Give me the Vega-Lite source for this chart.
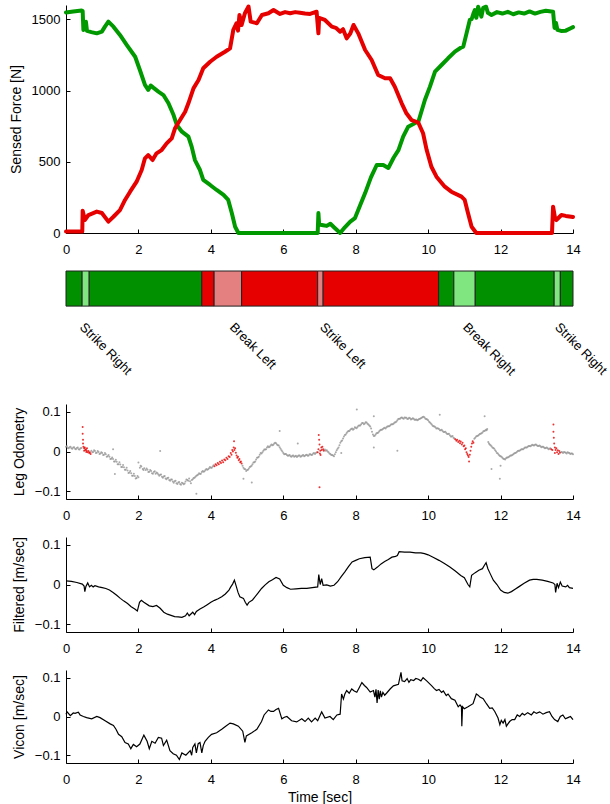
{
  "$schema": "https://vega.github.io/schema/vega-lite/v6.json",
  "padding": {"left": 9, "top": 4, "right": 2, "bottom": 2},
  "spacing": 14,
  "resolve": {"scale": {"x": "independent", "y": "independent", "color": "independent"}},
  "config": {
    "view": {"stroke": null},
    "font": "Liberation Sans",
    "text": {"font": "Liberation Sans"},
    "axis": {"labelFont": "Liberation Sans", "titleFont": "Liberation Sans", "labelFontSize": 13, "titleFontSize": 14, "titleFontWeight": "normal", "labelColor": "#000", "titleColor": "#000", "domainColor": "#000", "tickColor": "#000", "grid": false, "tickSize": -4, "labelPadding": 10, "titlePadding": 8, "domainWidth": 1, "tickWidth": 1, "labelFlush": false},
    "axisX": {"labelPadding": 14}
  },
  "datasets": {
    "force": [
      {"t":0,"f":1548,"leg":"Left"},{"t":0.2,"f":1555,"leg":"Left"},{"t":0.43,"f":1562,"leg":"Left"},{"t":0.46,"f":1558,"leg":"Left"},{"t":0.48,"f":1425,"leg":"Left"},{"t":0.52,"f":1440,"leg":"Left"},{"t":0.55,"f":1483,"leg":"Left"},{"t":0.58,"f":1418,"leg":"Left"},{"t":0.7,"f":1410,"leg":"Left"},{"t":0.85,"f":1401,"leg":"Left"},{"t":0.99,"f":1413,"leg":"Left"},{"t":1.08,"f":1450,"leg":"Left"},{"t":1.17,"f":1483,"leg":"Left"},{"t":1.31,"f":1448,"leg":"Left"},{"t":1.49,"f":1390,"leg":"Left"},{"t":1.68,"f":1319,"leg":"Left"},{"t":1.91,"f":1237,"leg":"Left"},{"t":2.04,"f":1144,"leg":"Left"},{"t":2.18,"f":1039,"leg":"Left"},{"t":2.27,"f":1004,"leg":"Left"},{"t":2.34,"f":1035,"leg":"Left"},{"t":2.41,"f":1020,"leg":"Left"},{"t":2.55,"f":992,"leg":"Left"},{"t":2.69,"f":968,"leg":"Left"},{"t":2.83,"f":910,"leg":"Left"},{"t":2.97,"f":828,"leg":"Left"},{"t":3.06,"f":758,"leg":"Left"},{"t":3.2,"f":711,"leg":"Left"},{"t":3.38,"f":676,"leg":"Left"},{"t":3.47,"f":606,"leg":"Left"},{"t":3.56,"f":512,"leg":"Left"},{"t":3.7,"f":442,"leg":"Left"},{"t":3.79,"f":372,"leg":"Left"},{"t":3.98,"f":337,"leg":"Left"},{"t":4.16,"f":302,"leg":"Left"},{"t":4.35,"f":267,"leg":"Left"},{"t":4.48,"f":232,"leg":"Left"},{"t":4.58,"f":138,"leg":"Left"},{"t":4.67,"f":44,"leg":"Left"},{"t":4.76,"f":0,"leg":"Left"},{"t":6.95,"f":0,"leg":"Left"},{"t":6.97,"f":140,"leg":"Left"},{"t":6.99,"f":60,"leg":"Left"},{"t":7.1,"f":55,"leg":"Left"},{"t":7.2,"f":50,"leg":"Left"},{"t":7.3,"f":65,"leg":"Left"},{"t":7.4,"f":40,"leg":"Left"},{"t":7.57,"f":0,"leg":"Left"},{"t":7.7,"f":40,"leg":"Left"},{"t":7.85,"f":80,"leg":"Left"},{"t":7.98,"f":105,"leg":"Left"},{"t":8.1,"f":180,"leg":"Left"},{"t":8.26,"f":280,"leg":"Left"},{"t":8.42,"f":390,"leg":"Left"},{"t":8.58,"f":477,"leg":"Left"},{"t":8.76,"f":477,"leg":"Left"},{"t":8.9,"f":456,"leg":"Left"},{"t":9.05,"f":530,"leg":"Left"},{"t":9.18,"f":582,"leg":"Left"},{"t":9.31,"f":676,"leg":"Left"},{"t":9.45,"f":746,"leg":"Left"},{"t":9.63,"f":770,"leg":"Left"},{"t":9.73,"f":781,"leg":"Left"},{"t":9.91,"f":933,"leg":"Left"},{"t":10.05,"f":1027,"leg":"Left"},{"t":10.19,"f":1132,"leg":"Left"},{"t":10.37,"f":1179,"leg":"Left"},{"t":10.55,"f":1226,"leg":"Left"},{"t":10.74,"f":1273,"leg":"Left"},{"t":10.9,"f":1300,"leg":"Left"},{"t":10.97,"f":1308,"leg":"Left"},{"t":11.06,"f":1401,"leg":"Left"},{"t":11.15,"f":1495,"leg":"Left"},{"t":11.2,"f":1500,"leg":"Left"},{"t":11.25,"f":1540,"leg":"Left"},{"t":11.29,"f":1565,"leg":"Left"},{"t":11.33,"f":1510,"leg":"Left"},{"t":11.38,"f":1588,"leg":"Left"},{"t":11.47,"f":1518,"leg":"Left"},{"t":11.52,"f":1580,"leg":"Left"},{"t":11.6,"f":1588,"leg":"Left"},{"t":11.65,"f":1545,"leg":"Left"},{"t":11.75,"f":1530,"leg":"Left"},{"t":11.9,"f":1550,"leg":"Left"},{"t":12.05,"f":1540,"leg":"Left"},{"t":12.2,"f":1552,"leg":"Left"},{"t":12.35,"f":1535,"leg":"Left"},{"t":12.5,"f":1548,"leg":"Left"},{"t":12.65,"f":1540,"leg":"Left"},{"t":12.8,"f":1555,"leg":"Left"},{"t":12.95,"f":1540,"leg":"Left"},{"t":13.1,"f":1552,"leg":"Left"},{"t":13.25,"f":1560,"leg":"Left"},{"t":13.45,"f":1553,"leg":"Left"},{"t":13.49,"f":1439,"leg":"Left"},{"t":13.53,"f":1475,"leg":"Left"},{"t":13.57,"f":1425,"leg":"Left"},{"t":13.67,"f":1418,"leg":"Left"},{"t":13.8,"f":1420,"leg":"Left"},{"t":13.95,"f":1439,"leg":"Left"},{"t":14,"f":1445,"leg":"Left"},
      {"t":0,"f":10,"leg":"Right"},{"t":0.45,"f":10,"leg":"Right"},{"t":0.46,"f":157,"leg":"Right"},{"t":0.52,"f":91,"leg":"Right"},{"t":0.62,"f":126,"leg":"Right"},{"t":0.85,"f":150,"leg":"Right"},{"t":0.99,"f":140,"leg":"Right"},{"t":1.17,"f":80,"leg":"Right"},{"t":1.31,"f":114,"leg":"Right"},{"t":1.49,"f":161,"leg":"Right"},{"t":1.63,"f":232,"leg":"Right"},{"t":1.77,"f":290,"leg":"Right"},{"t":1.95,"f":360,"leg":"Right"},{"t":2.09,"f":442,"leg":"Right"},{"t":2.18,"f":524,"leg":"Right"},{"t":2.27,"f":547,"leg":"Right"},{"t":2.39,"f":512,"leg":"Right"},{"t":2.5,"f":559,"leg":"Right"},{"t":2.64,"f":582,"leg":"Right"},{"t":2.78,"f":629,"leg":"Right"},{"t":2.92,"f":664,"leg":"Right"},{"t":3.01,"f":735,"leg":"Right"},{"t":3.15,"f":793,"leg":"Right"},{"t":3.29,"f":851,"leg":"Right"},{"t":3.38,"f":910,"leg":"Right"},{"t":3.52,"f":1015,"leg":"Right"},{"t":3.66,"f":1074,"leg":"Right"},{"t":3.79,"f":1156,"leg":"Right"},{"t":3.98,"f":1202,"leg":"Right"},{"t":4.16,"f":1237,"leg":"Right"},{"t":4.39,"f":1272,"leg":"Right"},{"t":4.53,"f":1296,"leg":"Right"},{"t":4.62,"f":1425,"leg":"Right"},{"t":4.71,"f":1472,"leg":"Right"},{"t":4.75,"f":1420,"leg":"Right"},{"t":4.79,"f":1530,"leg":"Right"},{"t":4.85,"f":1460,"leg":"Right"},{"t":4.94,"f":1542,"leg":"Right"},{"t":5.04,"f":1589,"leg":"Right"},{"t":5.1,"f":1483,"leg":"Right"},{"t":5.27,"f":1472,"leg":"Right"},{"t":5.41,"f":1530,"leg":"Right"},{"t":5.59,"f":1542,"leg":"Right"},{"t":5.73,"f":1565,"leg":"Right"},{"t":5.91,"f":1537,"leg":"Right"},{"t":6.05,"f":1550,"leg":"Right"},{"t":6.19,"f":1542,"leg":"Right"},{"t":6.33,"f":1550,"leg":"Right"},{"t":6.46,"f":1546,"leg":"Right"},{"t":6.6,"f":1540,"leg":"Right"},{"t":6.74,"f":1537,"leg":"Right"},{"t":6.92,"f":1553,"leg":"Right"},{"t":6.97,"f":1401,"leg":"Right"},{"t":6.99,"f":1509,"leg":"Right"},{"t":7.15,"f":1495,"leg":"Right"},{"t":7.34,"f":1448,"leg":"Right"},{"t":7.45,"f":1440,"leg":"Right"},{"t":7.57,"f":1413,"leg":"Right"},{"t":7.65,"f":1430,"leg":"Right"},{"t":7.75,"f":1366,"leg":"Right"},{"t":7.85,"f":1400,"leg":"Right"},{"t":7.94,"f":1460,"leg":"Right"},{"t":8.07,"f":1401,"leg":"Right"},{"t":8.26,"f":1284,"leg":"Right"},{"t":8.44,"f":1214,"leg":"Right"},{"t":8.62,"f":1109,"leg":"Right"},{"t":8.81,"f":1086,"leg":"Right"},{"t":8.95,"f":1086,"leg":"Right"},{"t":9.08,"f":1027,"leg":"Right"},{"t":9.27,"f":910,"leg":"Right"},{"t":9.4,"f":840,"leg":"Right"},{"t":9.54,"f":793,"leg":"Right"},{"t":9.73,"f":774,"leg":"Right"},{"t":9.86,"f":700,"leg":"Right"},{"t":9.96,"f":582,"leg":"Right"},{"t":10.09,"f":465,"leg":"Right"},{"t":10.23,"f":395,"leg":"Right"},{"t":10.46,"f":325,"leg":"Right"},{"t":10.64,"f":290,"leg":"Right"},{"t":10.92,"f":255,"leg":"Right"},{"t":11.01,"f":232,"leg":"Right"},{"t":11.1,"f":140,"leg":"Right"},{"t":11.2,"f":44,"leg":"Right"},{"t":11.33,"f":0,"leg":"Right"},{"t":13.42,"f":0,"leg":"Right"},{"t":13.45,"f":185,"leg":"Right"},{"t":13.5,"f":110,"leg":"Right"},{"t":13.54,"f":91,"leg":"Right"},{"t":13.68,"f":126,"leg":"Right"},{"t":13.8,"f":120,"leg":"Right"},{"t":13.95,"f":114,"leg":"Right"},{"t":14,"f":112,"leg":"Right"}
    ],
    "phases": [
      {"start":0,"end":0.445,"phase":"Left support"},
      {"start":0.445,"end":0.64,"phase":"Left event"},
      {"start":0.64,"end":3.75,"phase":"Left support"},
      {"start":3.75,"end":4.09,"phase":"Right support"},
      {"start":4.09,"end":4.85,"phase":"Right event"},
      {"start":4.85,"end":6.95,"phase":"Right support"},
      {"start":6.95,"end":7.1,"phase":"Right event"},
      {"start":7.1,"end":10.29,"phase":"Right support"},
      {"start":10.29,"end":10.71,"phase":"Left support"},
      {"start":10.71,"end":11.3,"phase":"Left event"},
      {"start":11.3,"end":13.48,"phase":"Left support"},
      {"start":13.48,"end":13.65,"phase":"Left event"},
      {"start":13.65,"end":14,"phase":"Left support"}
    ],
    "events": [
      {"t":0.44,"event":"Strike Right"},
      {"t":4.58,"event":"Break Left"},
      {"t":7.07,"event":"Strike Left"},
      {"t":11.02,"event":"Break Right"},
      {"t":13.56,"event":"Strike Right"}
    ],
    "odo": [
      {"t":0,"v":0.012,"k":"n"},{"t":0.05,"v":0.009,"k":"n"},{"t":0.1,"v":0.011,"k":"n"},{"t":0.15,"v":0.008,"k":"n"},{"t":0.2,"v":0.01,"k":"n"},{"t":0.25,"v":0.007,"k":"n"},{"t":0.3,"v":0.009,"k":"n"},{"t":0.35,"v":0.006,"k":"n"},{"t":0.4,"v":0.008,"k":"n"},{"t":0.7,"v":0.002,"k":"n"},{"t":0.75,"v":-0.001,"k":"n"},{"t":0.8,"v":0.001,"k":"n"},{"t":0.85,"v":-0.003,"k":"n"},{"t":0.9,"v":-0.001,"k":"n"},{"t":0.95,"v":-0.005,"k":"n"},{"t":1,"v":-0.004,"k":"n"},{"t":1.05,"v":-0.008,"k":"n"},{"t":1.1,"v":-0.007,"k":"n"},{"t":1.15,"v":-0.012,"k":"n"},{"t":1.2,"v":-0.013,"k":"n"},{"t":1.25,"v":-0.018,"k":"n"},{"t":1.3,"v":-0.019,"k":"n"},{"t":1.35,"v":-0.025,"k":"n"},{"t":1.4,"v":-0.026,"k":"n"},{"t":1.45,"v":-0.032,"k":"n"},{"t":1.5,"v":-0.033,"k":"n"},{"t":1.55,"v":-0.039,"k":"n"},{"t":1.6,"v":-0.04,"k":"n"},{"t":1.65,"v":-0.046,"k":"n"},{"t":1.7,"v":-0.048,"k":"n"},{"t":1.75,"v":-0.053,"k":"n"},{"t":1.8,"v":-0.055,"k":"n"},{"t":1.85,"v":-0.061,"k":"n"},{"t":1.9,"v":-0.062,"k":"n"},{"t":1.95,"v":-0.067,"k":"n"},{"t":2,"v":-0.065,"k":"n"},{"t":2.04,"v":-0.041,"k":"n"},{"t":2.08,"v":-0.038,"k":"n"},{"t":2.12,"v":-0.044,"k":"n"},{"t":2.16,"v":-0.042,"k":"n"},{"t":2.2,"v":-0.047,"k":"n"},{"t":2.25,"v":-0.046,"k":"n"},{"t":2.3,"v":-0.051,"k":"n"},{"t":2.35,"v":-0.049,"k":"n"},{"t":2.4,"v":-0.056,"k":"n"},{"t":2.45,"v":-0.05,"k":"n"},{"t":2.5,"v":-0.053,"k":"n"},{"t":2.55,"v":-0.058,"k":"n"},{"t":2.6,"v":-0.059,"k":"n"},{"t":2.65,"v":-0.064,"k":"n"},{"t":2.7,"v":-0.063,"k":"n"},{"t":2.75,"v":-0.068,"k":"n"},{"t":2.8,"v":-0.067,"k":"n"},{"t":2.85,"v":-0.072,"k":"n"},{"t":2.9,"v":-0.071,"k":"n"},{"t":2.95,"v":-0.076,"k":"n"},{"t":3,"v":-0.075,"k":"n"},{"t":3.05,"v":-0.08,"k":"n"},{"t":3.1,"v":-0.078,"k":"n"},{"t":3.15,"v":-0.082,"k":"n"},{"t":3.2,"v":-0.079,"k":"n"},{"t":3.25,"v":-0.083,"k":"n"},{"t":3.3,"v":-0.076,"k":"n"},{"t":3.35,"v":-0.072,"k":"n"},{"t":3.4,"v":-0.068,"k":"n"},{"t":3.45,"v":-0.08,"k":"n"},{"t":3.5,"v":-0.07,"k":"n"},{"t":3.55,"v":-0.066,"k":"n"},{"t":3.6,"v":-0.061,"k":"n"},{"t":3.65,"v":-0.058,"k":"n"},{"t":3.7,"v":-0.057,"k":"n"},{"t":3.75,"v":-0.052,"k":"n"},{"t":3.8,"v":-0.051,"k":"n"},{"t":3.85,"v":-0.047,"k":"n"},{"t":3.9,"v":-0.046,"k":"n"},{"t":3.95,"v":-0.042,"k":"n"},{"t":4,"v":-0.041,"k":"n"},{"t":4.05,"v":-0.038,"k":"n"},{"t":4.9,"v":-0.041,"k":"n"},{"t":4.95,"v":-0.045,"k":"n"},{"t":5,"v":-0.047,"k":"n"},{"t":5.05,"v":-0.043,"k":"n"},{"t":5.1,"v":-0.038,"k":"n"},{"t":5.15,"v":-0.032,"k":"n"},{"t":5.2,"v":-0.027,"k":"n"},{"t":5.25,"v":-0.02,"k":"n"},{"t":5.3,"v":-0.015,"k":"n"},{"t":5.35,"v":-0.008,"k":"n"},{"t":5.4,"v":-0.005,"k":"n"},{"t":5.45,"v":0.002,"k":"n"},{"t":5.5,"v":0.005,"k":"n"},{"t":5.55,"v":0.01,"k":"n"},{"t":5.6,"v":0.011,"k":"n"},{"t":5.65,"v":0.015,"k":"n"},{"t":5.7,"v":0.016,"k":"n"},{"t":5.75,"v":0.02,"k":"n"},{"t":5.8,"v":0.021,"k":"n"},{"t":5.85,"v":0.016,"k":"n"},{"t":5.9,"v":0.011,"k":"n"},{"t":5.95,"v":0.003,"k":"n"},{"t":6,"v":-0.004,"k":"n"},{"t":6.05,"v":-0.006,"k":"n"},{"t":6.1,"v":-0.009,"k":"n"},{"t":6.15,"v":-0.01,"k":"n"},{"t":6.2,"v":-0.012,"k":"n"},{"t":6.25,"v":-0.011,"k":"n"},{"t":6.3,"v":-0.013,"k":"n"},{"t":6.35,"v":-0.011,"k":"n"},{"t":6.4,"v":-0.012,"k":"n"},{"t":6.45,"v":-0.01,"k":"n"},{"t":6.5,"v":-0.012,"k":"n"},{"t":6.55,"v":-0.009,"k":"n"},{"t":6.6,"v":-0.011,"k":"n"},{"t":6.65,"v":-0.008,"k":"n"},{"t":6.7,"v":-0.01,"k":"n"},{"t":6.75,"v":-0.007,"k":"n"},{"t":6.8,"v":-0.008,"k":"n"},{"t":6.85,"v":-0.004,"k":"n"},{"t":6.9,"v":-0.004,"k":"n"},{"t":7.15,"v":0.005,"k":"n"},{"t":7.2,"v":0.003,"k":"n"},{"t":7.25,"v":-0.002,"k":"n"},{"t":7.3,"v":-0.006,"k":"n"},{"t":7.35,"v":-0.009,"k":"n"},{"t":7.4,"v":-0.012,"k":"n"},{"t":7.45,"v":-0.002,"k":"n"},{"t":7.5,"v":0.007,"k":"n"},{"t":7.55,"v":0.016,"k":"n"},{"t":7.6,"v":0.026,"k":"n"},{"t":7.65,"v":0.033,"k":"n"},{"t":7.7,"v":0.042,"k":"n"},{"t":7.75,"v":0.047,"k":"n"},{"t":7.8,"v":0.052,"k":"n"},{"t":7.85,"v":0.055,"k":"n"},{"t":7.9,"v":0.058,"k":"n"},{"t":7.95,"v":0.057,"k":"n"},{"t":8,"v":0.06,"k":"n"},{"t":8.05,"v":0.062,"k":"n"},{"t":8.1,"v":0.066,"k":"n"},{"t":8.15,"v":0.069,"k":"n"},{"t":8.2,"v":0.072,"k":"n"},{"t":8.25,"v":0.071,"k":"n"},{"t":8.3,"v":0.073,"k":"n"},{"t":8.35,"v":0.068,"k":"n"},{"t":8.4,"v":0.063,"k":"n"},{"t":8.45,"v":0.05,"k":"n"},{"t":8.5,"v":0.039,"k":"n"},{"t":8.55,"v":0.043,"k":"n"},{"t":8.6,"v":0.047,"k":"n"},{"t":8.65,"v":0.051,"k":"n"},{"t":8.7,"v":0.055,"k":"n"},{"t":8.75,"v":0.057,"k":"n"},{"t":8.8,"v":0.06,"k":"n"},{"t":8.85,"v":0.061,"k":"n"},{"t":8.9,"v":0.064,"k":"n"},{"t":8.95,"v":0.066,"k":"n"},{"t":9,"v":0.069,"k":"n"},{"t":9.05,"v":0.071,"k":"n"},{"t":9.1,"v":0.074,"k":"n"},{"t":9.15,"v":0.079,"k":"n"},{"t":9.2,"v":0.083,"k":"n"},{"t":9.25,"v":0.085,"k":"n"},{"t":9.3,"v":0.084,"k":"n"},{"t":9.35,"v":0.086,"k":"n"},{"t":9.4,"v":0.085,"k":"n"},{"t":9.45,"v":0.083,"k":"n"},{"t":9.5,"v":0.084,"k":"n"},{"t":9.55,"v":0.082,"k":"n"},{"t":9.6,"v":0.083,"k":"n"},{"t":9.65,"v":0.08,"k":"n"},{"t":9.7,"v":0.079,"k":"n"},{"t":9.75,"v":0.082,"k":"n"},{"t":9.8,"v":0.084,"k":"n"},{"t":9.85,"v":0.087,"k":"n"},{"t":9.9,"v":0.086,"k":"n"},{"t":9.95,"v":0.082,"k":"n"},{"t":10,"v":0.079,"k":"n"},{"t":10.05,"v":0.073,"k":"n"},{"t":10.1,"v":0.068,"k":"n"},{"t":10.15,"v":0.064,"k":"n"},{"t":10.2,"v":0.061,"k":"n"},{"t":10.25,"v":0.059,"k":"n"},{"t":10.3,"v":0.057,"k":"n"},{"t":10.35,"v":0.054,"k":"n"},{"t":10.4,"v":0.052,"k":"n"},{"t":10.45,"v":0.049,"k":"n"},{"t":10.5,"v":0.047,"k":"n"},{"t":10.55,"v":0.044,"k":"n"},{"t":10.6,"v":0.041,"k":"n"},{"t":10.65,"v":0.038,"k":"n"},{"t":10.7,"v":0.035,"k":"n"},{"t":11.3,"v":0.035,"k":"n"},{"t":11.35,"v":0.039,"k":"n"},{"t":11.4,"v":0.042,"k":"n"},{"t":11.45,"v":0.045,"k":"n"},{"t":11.5,"v":0.048,"k":"n"},{"t":11.55,"v":0.052,"k":"n"},{"t":11.6,"v":0.055,"k":"n"},{"t":11.63,"v":0.057,"k":"n"},{"t":11.66,"v":0.024,"k":"n"},{"t":11.7,"v":0.018,"k":"n"},{"t":11.75,"v":0.013,"k":"n"},{"t":11.8,"v":0.009,"k":"n"},{"t":11.85,"v":0.003,"k":"n"},{"t":11.9,"v":-0.004,"k":"n"},{"t":11.95,"v":-0.008,"k":"n"},{"t":12,"v":-0.012,"k":"n"},{"t":12.05,"v":-0.016,"k":"n"},{"t":12.1,"v":-0.019,"k":"n"},{"t":12.15,"v":-0.017,"k":"n"},{"t":12.2,"v":-0.015,"k":"n"},{"t":12.25,"v":-0.012,"k":"n"},{"t":12.3,"v":-0.01,"k":"n"},{"t":12.35,"v":-0.007,"k":"n"},{"t":12.4,"v":-0.004,"k":"n"},{"t":12.45,"v":-0.001,"k":"n"},{"t":12.5,"v":0.002,"k":"n"},{"t":12.55,"v":0.004,"k":"n"},{"t":12.6,"v":0.006,"k":"n"},{"t":12.65,"v":0.008,"k":"n"},{"t":12.7,"v":0.01,"k":"n"},{"t":12.75,"v":0.012,"k":"n"},{"t":12.8,"v":0.014,"k":"n"},{"t":12.85,"v":0.015,"k":"n"},{"t":12.9,"v":0.016,"k":"n"},{"t":12.95,"v":0.017,"k":"n"},{"t":13,"v":0.016,"k":"n"},{"t":13.05,"v":0.014,"k":"n"},{"t":13.1,"v":0.013,"k":"n"},{"t":13.15,"v":0.012,"k":"n"},{"t":13.2,"v":0.01,"k":"n"},{"t":13.25,"v":0.009,"k":"n"},{"t":13.3,"v":0.008,"k":"n"},{"t":13.35,"v":0.007,"k":"n"},{"t":13.7,"v":-0.002,"k":"n"},{"t":13.75,"v":-0.001,"k":"n"},{"t":13.8,"v":-0.003,"k":"n"},{"t":13.85,"v":-0.002,"k":"n"},{"t":13.9,"v":-0.004,"k":"n"},{"t":13.95,"v":-0.005,"k":"n"},{"t":14,"v":-0.007,"k":"n"},
      {"t":0.025,"v":0.013,"k":"n"},{"t":0.075,"v":0.008,"k":"n"},{"t":0.125,"v":0.012,"k":"n"},{"t":0.175,"v":0.007,"k":"n"},{"t":0.225,"v":0.011,"k":"n"},{"t":0.275,"v":0.006,"k":"n"},{"t":0.325,"v":0.01,"k":"n"},{"t":0.375,"v":0.005,"k":"n"},{"t":0.425,"v":0.009,"k":"n"},{"t":0.725,"v":-0.002,"k":"n"},{"t":0.775,"v":0.003,"k":"n"},{"t":0.825,"v":-0.004,"k":"n"},{"t":0.875,"v":0.001,"k":"n"},{"t":0.925,"v":-0.006,"k":"n"},{"t":0.975,"v":-0.002,"k":"n"},{"t":1.025,"v":-0.009,"k":"n"},{"t":1.075,"v":-0.004,"k":"n"},{"t":1.125,"v":-0.013,"k":"n"},{"t":1.175,"v":-0.009,"k":"n"},{"t":1.225,"v":-0.019,"k":"n"},{"t":1.275,"v":-0.015,"k":"n"},{"t":1.325,"v":-0.025,"k":"n"},{"t":1.375,"v":-0.021,"k":"n"},{"t":1.425,"v":-0.032,"k":"n"},{"t":1.475,"v":-0.027,"k":"n"},{"t":1.525,"v":-0.039,"k":"n"},{"t":1.575,"v":-0.034,"k":"n"},{"t":1.625,"v":-0.046,"k":"n"},{"t":1.675,"v":-0.041,"k":"n"},{"t":1.725,"v":-0.054,"k":"n"},{"t":1.775,"v":-0.049,"k":"n"},{"t":1.825,"v":-0.061,"k":"n"},{"t":1.875,"v":-0.056,"k":"n"},{"t":1.925,"v":-0.068,"k":"n"},{"t":1.975,"v":-0.062,"k":"n"},{"t":2.06,"v":-0.036,"k":"n"},{"t":2.14,"v":-0.047,"k":"n"},{"t":2.225,"v":-0.043,"k":"n"},{"t":2.275,"v":-0.052,"k":"n"},{"t":2.325,"v":-0.047,"k":"n"},{"t":2.375,"v":-0.055,"k":"n"},{"t":2.425,"v":-0.052,"k":"n"},{"t":2.475,"v":-0.056,"k":"n"},{"t":2.525,"v":-0.055,"k":"n"},{"t":2.575,"v":-0.061,"k":"n"},{"t":2.625,"v":-0.058,"k":"n"},{"t":2.675,"v":-0.066,"k":"n"},{"t":2.725,"v":-0.062,"k":"n"},{"t":2.775,"v":-0.07,"k":"n"},{"t":2.825,"v":-0.066,"k":"n"},{"t":2.875,"v":-0.074,"k":"n"},{"t":2.925,"v":-0.071,"k":"n"},{"t":2.975,"v":-0.079,"k":"n"},{"t":3.025,"v":-0.074,"k":"n"},{"t":3.075,"v":-0.082,"k":"n"},{"t":3.125,"v":-0.077,"k":"n"},{"t":3.175,"v":-0.084,"k":"n"},{"t":3.225,"v":-0.08,"k":"n"},{"t":3.275,"v":-0.081,"k":"n"},{"t":3.325,"v":-0.071,"k":"n"},{"t":3.375,"v":-0.074,"k":"n"},{"t":3.425,"v":-0.075,"k":"n"},{"t":3.475,"v":-0.072,"k":"n"},{"t":3.525,"v":-0.067,"k":"n"},{"t":3.575,"v":-0.064,"k":"n"},{"t":3.625,"v":-0.06,"k":"n"},{"t":3.675,"v":-0.055,"k":"n"},{"t":3.725,"v":-0.056,"k":"n"},{"t":3.775,"v":-0.049,"k":"n"},{"t":3.825,"v":-0.05,"k":"n"},{"t":3.875,"v":-0.044,"k":"n"},{"t":3.925,"v":-0.045,"k":"n"},{"t":3.975,"v":-0.039,"k":"n"},{"t":4.025,"v":-0.041,"k":"n"},{"t":4.075,"v":-0.035,"k":"n"},{"t":4.875,"v":-0.036,"k":"n"},{"t":4.925,"v":-0.044,"k":"n"},{"t":4.975,"v":-0.049,"k":"n"},{"t":5.025,"v":-0.046,"k":"n"},{"t":5.075,"v":-0.039,"k":"n"},{"t":5.125,"v":-0.036,"k":"n"},{"t":5.175,"v":-0.028,"k":"n"},{"t":5.225,"v":-0.025,"k":"n"},{"t":5.275,"v":-0.016,"k":"n"},{"t":5.325,"v":-0.013,"k":"n"},{"t":5.375,"v":-0.004,"k":"n"},{"t":5.425,"v":-0.002,"k":"n"},{"t":5.475,"v":0.005,"k":"n"},{"t":5.525,"v":0.006,"k":"n"},{"t":5.575,"v":0.013,"k":"n"},{"t":5.625,"v":0.012,"k":"n"},{"t":5.675,"v":0.018,"k":"n"},{"t":5.725,"v":0.017,"k":"n"},{"t":5.775,"v":0.022,"k":"n"},{"t":5.825,"v":0.018,"k":"n"},{"t":5.875,"v":0.015,"k":"n"},{"t":5.925,"v":0.007,"k":"n"},{"t":5.975,"v":0.0,"k":"n"},{"t":6.025,"v":-0.007,"k":"n"},{"t":6.075,"v":-0.006,"k":"n"},{"t":6.125,"v":-0.011,"k":"n"},{"t":6.175,"v":-0.009,"k":"n"},{"t":6.225,"v":-0.013,"k":"n"},{"t":6.275,"v":-0.01,"k":"n"},{"t":6.325,"v":-0.012,"k":"n"},{"t":6.375,"v":-0.014,"k":"n"},{"t":6.425,"v":-0.01,"k":"n"},{"t":6.475,"v":-0.013,"k":"n"},{"t":6.525,"v":-0.01,"k":"n"},{"t":6.575,"v":-0.012,"k":"n"},{"t":6.625,"v":-0.009,"k":"n"},{"t":6.675,"v":-0.011,"k":"n"},{"t":6.725,"v":-0.007,"k":"n"},{"t":6.775,"v":-0.009,"k":"n"},{"t":6.825,"v":-0.005,"k":"n"},{"t":6.875,"v":-0.006,"k":"n"},{"t":6.925,"v":-0.002,"k":"n"},{"t":7.175,"v":0.002,"k":"n"},{"t":7.225,"v":0.0,"k":"n"},{"t":7.275,"v":-0.005,"k":"n"},{"t":7.325,"v":-0.009,"k":"n"},{"t":7.375,"v":-0.01,"k":"n"},{"t":7.425,"v":-0.007,"k":"n"},{"t":7.475,"v":0.003,"k":"n"},{"t":7.525,"v":0.01,"k":"n"},{"t":7.575,"v":0.022,"k":"n"},{"t":7.625,"v":0.028,"k":"n"},{"t":7.675,"v":0.038,"k":"n"},{"t":7.725,"v":0.043,"k":"n"},{"t":7.775,"v":0.05,"k":"n"},{"t":7.825,"v":0.052,"k":"n"},{"t":7.875,"v":0.057,"k":"n"},{"t":7.925,"v":0.055,"k":"n"},{"t":7.975,"v":0.061,"k":"n"},{"t":8.025,"v":0.059,"k":"n"},{"t":8.075,"v":0.065,"k":"n"},{"t":8.125,"v":0.066,"k":"n"},{"t":8.175,"v":0.072,"k":"n"},{"t":8.225,"v":0.069,"k":"n"},{"t":8.275,"v":0.074,"k":"n"},{"t":8.325,"v":0.07,"k":"n"},{"t":8.375,"v":0.066,"k":"n"},{"t":8.425,"v":0.058,"k":"n"},{"t":8.475,"v":0.043,"k":"n"},{"t":8.525,"v":0.04,"k":"n"},{"t":8.575,"v":0.046,"k":"n"},{"t":8.625,"v":0.048,"k":"n"},{"t":8.675,"v":0.054,"k":"n"},{"t":8.725,"v":0.055,"k":"n"},{"t":8.775,"v":0.059,"k":"n"},{"t":8.825,"v":0.058,"k":"n"},{"t":8.875,"v":0.063,"k":"n"},{"t":8.925,"v":0.064,"k":"n"},{"t":8.975,"v":0.068,"k":"n"},{"t":9.025,"v":0.069,"k":"n"},{"t":9.075,"v":0.073,"k":"n"},{"t":9.125,"v":0.076,"k":"n"},{"t":9.175,"v":0.082,"k":"n"},{"t":9.225,"v":0.083,"k":"n"},{"t":9.275,"v":0.086,"k":"n"},{"t":9.325,"v":0.083,"k":"n"},{"t":9.375,"v":0.085,"k":"n"},{"t":9.425,"v":0.082,"k":"n"},{"t":9.475,"v":0.085,"k":"n"},{"t":9.525,"v":0.081,"k":"n"},{"t":9.575,"v":0.084,"k":"n"},{"t":9.625,"v":0.08,"k":"n"},{"t":9.675,"v":0.081,"k":"n"},{"t":9.725,"v":0.08,"k":"n"},{"t":9.775,"v":0.083,"k":"n"},{"t":9.825,"v":0.085,"k":"n"},{"t":9.875,"v":0.088,"k":"n"},{"t":9.925,"v":0.083,"k":"n"},{"t":9.975,"v":0.081,"k":"n"},{"t":10.025,"v":0.075,"k":"n"},{"t":10.075,"v":0.071,"k":"n"},{"t":10.125,"v":0.065,"k":"n"},{"t":10.175,"v":0.063,"k":"n"},{"t":10.225,"v":0.058,"k":"n"},{"t":10.275,"v":0.058,"k":"n"},{"t":10.325,"v":0.054,"k":"n"},{"t":10.375,"v":0.055,"k":"n"},{"t":10.425,"v":0.049,"k":"n"},{"t":10.475,"v":0.05,"k":"n"},{"t":10.525,"v":0.044,"k":"n"},{"t":10.575,"v":0.045,"k":"n"},{"t":10.625,"v":0.038,"k":"n"},{"t":10.675,"v":0.039,"k":"n"},{"t":10.725,"v":0.033,"k":"n"},{"t":11.275,"v":0.032,"k":"n"},{"t":11.325,"v":0.038,"k":"n"},{"t":11.375,"v":0.04,"k":"n"},{"t":11.425,"v":0.044,"k":"n"},{"t":11.475,"v":0.046,"k":"n"},{"t":11.525,"v":0.051,"k":"n"},{"t":11.575,"v":0.053,"k":"n"},{"t":11.615,"v":0.054,"k":"n"},{"t":11.68,"v":0.02,"k":"n"},{"t":11.725,"v":0.016,"k":"n"},{"t":11.775,"v":0.01,"k":"n"},{"t":11.825,"v":0.007,"k":"n"},{"t":11.875,"v":0.0,"k":"n"},{"t":11.925,"v":-0.005,"k":"n"},{"t":11.975,"v":-0.011,"k":"n"},{"t":12.025,"v":-0.013,"k":"n"},{"t":12.075,"v":-0.018,"k":"n"},{"t":12.125,"v":-0.02,"k":"n"},{"t":12.175,"v":-0.015,"k":"n"},{"t":12.225,"v":-0.014,"k":"n"},{"t":12.275,"v":-0.01,"k":"n"},{"t":12.325,"v":-0.009,"k":"n"},{"t":12.375,"v":-0.005,"k":"n"},{"t":12.425,"v":-0.003,"k":"n"},{"t":12.475,"v":0.001,"k":"n"},{"t":12.525,"v":0.002,"k":"n"},{"t":12.575,"v":0.006,"k":"n"},{"t":12.625,"v":0.006,"k":"n"},{"t":12.675,"v":0.01,"k":"n"},{"t":12.725,"v":0.01,"k":"n"},{"t":12.775,"v":0.014,"k":"n"},{"t":12.825,"v":0.013,"k":"n"},{"t":12.875,"v":0.017,"k":"n"},{"t":12.925,"v":0.015,"k":"n"},{"t":12.975,"v":0.018,"k":"n"},{"t":13.025,"v":0.014,"k":"n"},{"t":13.075,"v":0.015,"k":"n"},{"t":13.125,"v":0.011,"k":"n"},{"t":13.175,"v":0.012,"k":"n"},{"t":13.225,"v":0.008,"k":"n"},{"t":13.275,"v":0.01,"k":"n"},{"t":13.325,"v":0.006,"k":"n"},{"t":13.375,"v":0.008,"k":"n"},{"t":13.675,"v":-0.001,"k":"n"},{"t":13.725,"v":-0.004,"k":"n"},{"t":13.775,"v":-0.002,"k":"n"},{"t":13.825,"v":-0.005,"k":"n"},{"t":13.875,"v":-0.003,"k":"n"},{"t":13.925,"v":-0.006,"k":"n"},{"t":13.975,"v":-0.005,"k":"n"},
      {"t":1.35,"v":-0.057,"k":"n"},{"t":2.0,"v":-0.028,"k":"n"},{"t":3.6,"v":-0.107,"k":"n"},{"t":5.13,"v":-0.078,"k":"n"},{"t":5.9,"v":0.052,"k":"n"},{"t":2.6,"v":0.001,"k":"n"},{"t":1.3,"v":0.006,"k":"n"},{"t":4.9,"v":-0.069,"k":"n"},{"t":8.03,"v":0.106,"k":"n"},{"t":8.5,"v":0.089,"k":"n"},{"t":8.5,"v":0.01,"k":"n"},{"t":9.15,"v":0.002,"k":"n"},{"t":11.56,"v":0.089,"k":"n"},{"t":11.98,"v":-0.069,"k":"n"},{"t":12.0,"v":-0.036,"k":"n"},{"t":11.75,"v":-0.044,"k":"n"},{"t":10.32,"v":0.093,"k":"n"},{"t":6.4,"v":0.02,"k":"n"},{"t":7.6,"v":-0.004,"k":"n"},
      {"t":0.46,"v":0.062,"k":"e"},{"t":0.46,"v":0.045,"k":"e"},{"t":0.47,"v":0.03,"k":"e"},{"t":0.47,"v":0.02,"k":"e"},{"t":0.48,"v":0.012,"k":"e"},{"t":0.5,"v":0.008,"k":"e"},{"t":0.52,"v":0.01,"k":"e"},{"t":0.53,"v":0.004,"k":"e"},{"t":0.55,"v":0.006,"k":"e"},{"t":0.57,"v":0.002,"k":"e"},{"t":0.58,"v":0.008,"k":"e"},{"t":0.6,"v":-0.002,"k":"e"},{"t":0.62,"v":0.001,"k":"e"},{"t":0.64,"v":-0.004,"k":"e"},{"t":0.66,"v":-0.002,"k":"e"},{"t":0.68,"v":-0.006,"k":"e"},{"t":0.5,"v":0.002,"k":"e"},{"t":0.56,"v":-0.001,"k":"e"},
      {"t":4.1,"v":-0.037,"k":"e"},{"t":4.13,"v":-0.032,"k":"e"},{"t":4.16,"v":-0.035,"k":"e"},{"t":4.19,"v":-0.029,"k":"e"},{"t":4.22,"v":-0.032,"k":"e"},{"t":4.25,"v":-0.026,"k":"e"},{"t":4.28,"v":-0.029,"k":"e"},{"t":4.31,"v":-0.023,"k":"e"},{"t":4.34,"v":-0.027,"k":"e"},{"t":4.37,"v":-0.02,"k":"e"},{"t":4.4,"v":-0.022,"k":"e"},{"t":4.43,"v":-0.016,"k":"e"},{"t":4.46,"v":-0.019,"k":"e"},{"t":4.49,"v":-0.012,"k":"e"},{"t":4.52,"v":-0.014,"k":"e"},{"t":4.55,"v":-0.004,"k":"e"},{"t":4.57,"v":-0.008,"k":"e"},{"t":4.59,"v":0.004,"k":"e"},{"t":4.61,"v":0.0,"k":"e"},{"t":4.63,"v":0.01,"k":"e"},{"t":4.64,"v":0.026,"k":"e"},{"t":4.65,"v":0.004,"k":"e"},{"t":4.67,"v":0.008,"k":"e"},{"t":4.69,"v":-0.003,"k":"e"},{"t":4.71,"v":-0.01,"k":"e"},{"t":4.73,"v":-0.016,"k":"e"},{"t":4.75,"v":-0.013,"k":"e"},{"t":4.77,"v":-0.022,"k":"e"},{"t":4.79,"v":-0.019,"k":"e"},{"t":4.81,"v":-0.027,"k":"e"},{"t":4.83,"v":-0.025,"k":"e"},{"t":4.85,"v":-0.03,"k":"e"},
      {"t":6.95,"v":-0.002,"k":"e"},{"t":6.97,"v":0.006,"k":"e"},{"t":6.98,"v":0.042,"k":"e"},{"t":6.99,"v":0.03,"k":"e"},{"t":7.0,"v":0.018,"k":"e"},{"t":7.01,"v":-0.005,"k":"e"},{"t":7.02,"v":0.002,"k":"e"},{"t":7.03,"v":-0.009,"k":"e"},{"t":7.05,"v":0.01,"k":"e"},{"t":7.06,"v":0.004,"k":"e"},{"t":7.08,"v":0.012,"k":"e"},{"t":7.1,"v":0.006,"k":"e"},{"t":7.12,"v":0.002,"k":"e"},{"t":7.0,"v":-0.09,"k":"e"},
      {"t":10.75,"v":0.031,"k":"e"},{"t":10.78,"v":0.027,"k":"e"},{"t":10.8,"v":0.03,"k":"e"},{"t":10.83,"v":0.024,"k":"e"},{"t":10.86,"v":0.027,"k":"e"},{"t":10.88,"v":0.021,"k":"e"},{"t":10.9,"v":0.025,"k":"e"},{"t":10.93,"v":0.018,"k":"e"},{"t":10.95,"v":0.022,"k":"e"},{"t":10.98,"v":0.013,"k":"e"},{"t":11.0,"v":0.015,"k":"e"},{"t":11.02,"v":0.006,"k":"e"},{"t":11.04,"v":0.008,"k":"e"},{"t":11.06,"v":-0.002,"k":"e"},{"t":11.08,"v":-0.006,"k":"e"},{"t":11.1,"v":-0.01,"k":"e"},{"t":11.12,"v":-0.014,"k":"e"},{"t":11.13,"v":-0.025,"k":"e"},{"t":11.15,"v":-0.008,"k":"e"},{"t":11.17,"v":0.002,"k":"e"},{"t":11.19,"v":0.012,"k":"e"},{"t":11.21,"v":0.02,"k":"e"},{"t":11.23,"v":0.026,"k":"e"},{"t":11.25,"v":0.022,"k":"e"},
      {"t":13.4,"v":0.006,"k":"e"},{"t":13.43,"v":0.004,"k":"e"},{"t":13.46,"v":0.068,"k":"e"},{"t":13.46,"v":0.05,"k":"e"},{"t":13.47,"v":0.035,"k":"e"},{"t":13.48,"v":0.02,"k":"e"},{"t":13.5,"v":0.01,"k":"e"},{"t":13.52,"v":0.004,"k":"e"},{"t":13.54,"v":0.008,"k":"e"},{"t":13.56,"v":-0.002,"k":"e"},{"t":13.58,"v":0.003,"k":"e"},{"t":13.6,"v":-0.006,"k":"e"},{"t":13.62,"v":0.001,"k":"e"},{"t":13.64,"v":-0.003,"k":"e"},{"t":13.5,"v":-0.004,"k":"e"}
    ],
    "filtered": [
      {"t":0,"v":0.009},{"t":0.15,"v":0.008},{"t":0.3,"v":0.005},{"t":0.45,"v":0.001},{"t":0.5,"v":-0.004},{"t":0.52,"v":-0.018},{"t":0.55,"v":-0.005},{"t":0.6,"v":0.004},{"t":0.65,"v":-0.006},{"t":0.7,"v":-0.002},{"t":0.75,"v":-0.006},{"t":0.8,"v":-0.003},{"t":0.9,"v":-0.006},{"t":1.0,"v":-0.008},{"t":1.1,"v":-0.01},{"t":1.2,"v":-0.014},{"t":1.3,"v":-0.02},{"t":1.4,"v":-0.027},{"t":1.5,"v":-0.035},{"t":1.6,"v":-0.042},{"t":1.7,"v":-0.048},{"t":1.8,"v":-0.056},{"t":1.9,"v":-0.062},{"t":1.97,"v":-0.067},{"t":2.03,"v":-0.045},{"t":2.08,"v":-0.04},{"t":2.15,"v":-0.045},{"t":2.3,"v":-0.054},{"t":2.4,"v":-0.056},{"t":2.5,"v":-0.053},{"t":2.6,"v":-0.06},{"t":2.7,"v":-0.07},{"t":2.8,"v":-0.075},{"t":2.9,"v":-0.078},{"t":3.0,"v":-0.081},{"t":3.1,"v":-0.082},{"t":3.2,"v":-0.083},{"t":3.3,"v":-0.079},{"t":3.35,"v":-0.072},{"t":3.4,"v":-0.079},{"t":3.5,"v":-0.07},{"t":3.55,"v":-0.076},{"t":3.6,"v":-0.068},{"t":3.7,"v":-0.062},{"t":3.8,"v":-0.057},{"t":3.9,"v":-0.051},{"t":4.0,"v":-0.045},{"t":4.1,"v":-0.04},{"t":4.2,"v":-0.036},{"t":4.3,"v":-0.031},{"t":4.4,"v":-0.024},{"t":4.5,"v":-0.014},{"t":4.55,"v":-0.006},{"t":4.6,"v":0.001},{"t":4.65,"v":0.011},{"t":4.7,"v":-0.004},{"t":4.75,"v":-0.02},{"t":4.8,"v":-0.031},{"t":4.9,"v":-0.035},{"t":4.95,"v":-0.045},{"t":5.0,"v":-0.052},{"t":5.05,"v":-0.045},{"t":5.15,"v":-0.039},{"t":5.3,"v":-0.022},{"t":5.4,"v":-0.01},{"t":5.5,"v":-0.001},{"t":5.6,"v":0.007},{"t":5.7,"v":0.012},{"t":5.8,"v":0.018},{"t":5.9,"v":0.014},{"t":6.0,"v":-0.002},{"t":6.1,"v":-0.008},{"t":6.2,"v":-0.012},{"t":6.35,"v":-0.011},{"t":6.5,"v":-0.01},{"t":6.65,"v":-0.01},{"t":6.8,"v":-0.008},{"t":6.95,"v":-0.006},{"t":6.98,"v":0.025},{"t":7.02,"v":0.0},{"t":7.06,"v":0.015},{"t":7.1,"v":-0.002},{"t":7.2,"v":-0.001},{"t":7.3,"v":-0.004},{"t":7.4,"v":-0.002},{"t":7.5,"v":0.007},{"t":7.6,"v":0.02},{"t":7.7,"v":0.032},{"t":7.8,"v":0.045},{"t":7.9,"v":0.057},{"t":8.0,"v":0.061},{"t":8.1,"v":0.065},{"t":8.25,"v":0.068},{"t":8.4,"v":0.069},{"t":8.45,"v":0.04},{"t":8.5,"v":0.037},{"t":8.6,"v":0.044},{"t":8.7,"v":0.052},{"t":8.8,"v":0.058},{"t":8.9,"v":0.063},{"t":9.0,"v":0.069},{"t":9.1,"v":0.071},{"t":9.15,"v":0.073},{"t":9.2,"v":0.083},{"t":9.35,"v":0.082},{"t":9.5,"v":0.082},{"t":9.65,"v":0.08},{"t":9.8,"v":0.08},{"t":9.9,"v":0.078},{"t":10.0,"v":0.075},{"t":10.15,"v":0.068},{"t":10.3,"v":0.061},{"t":10.45,"v":0.053},{"t":10.6,"v":0.044},{"t":10.75,"v":0.034},{"t":10.9,"v":0.023},{"t":11.0,"v":0.017},{"t":11.1,"v":0.0},{"t":11.15,"v":-0.006},{"t":11.2,"v":0.023},{"t":11.3,"v":0.03},{"t":11.4,"v":0.036},{"t":11.5,"v":0.04},{"t":11.55,"v":0.048},{"t":11.6,"v":0.055},{"t":11.65,"v":0.04},{"t":11.7,"v":0.03},{"t":11.8,"v":0.011},{"t":11.9,"v":0.0},{"t":12.0,"v":-0.014},{"t":12.1,"v":-0.02},{"t":12.2,"v":-0.022},{"t":12.3,"v":-0.018},{"t":12.4,"v":-0.012},{"t":12.5,"v":-0.006},{"t":12.65,"v":0.003},{"t":12.8,"v":0.011},{"t":12.9,"v":0.013},{"t":13.0,"v":0.013},{"t":13.15,"v":0.011},{"t":13.3,"v":0.008},{"t":13.45,"v":0.004},{"t":13.5,"v":0.0},{"t":13.52,"v":-0.02},{"t":13.56,"v":0.003},{"t":13.6,"v":-0.008},{"t":13.65,"v":0.006},{"t":13.7,"v":-0.004},{"t":13.8,"v":-0.006},{"t":13.85,"v":-0.002},{"t":13.9,"v":-0.008},{"t":14,"v":-0.01}
    ],
    "vicon": [
      {"t":0,"v":0.006},{"t":0.03,"v":0.012},{"t":0.12,"v":0.002},{"t":0.2,"v":0.009},{"t":0.25,"v":0.008},{"t":0.34,"v":0.011},{"t":0.39,"v":0.004},{"t":0.48,"v":0.0},{"t":0.57,"v":-0.003},{"t":0.71,"v":-0.006},{"t":0.85,"v":0.0},{"t":0.94,"v":-0.003},{"t":1.08,"v":-0.011},{"t":1.22,"v":-0.019},{"t":1.31,"v":-0.023},{"t":1.38,"v":-0.033},{"t":1.45,"v":-0.046},{"t":1.54,"v":-0.052},{"t":1.63,"v":-0.067},{"t":1.72,"v":-0.071},{"t":1.79,"v":-0.083},{"t":1.86,"v":-0.072},{"t":1.95,"v":-0.078},{"t":2.04,"v":-0.071},{"t":2.15,"v":-0.048},{"t":2.24,"v":-0.064},{"t":2.3,"v":-0.083},{"t":2.37,"v":-0.064},{"t":2.46,"v":-0.069},{"t":2.55,"v":-0.054},{"t":2.64,"v":-0.056},{"t":2.69,"v":-0.075},{"t":2.78,"v":-0.061},{"t":2.87,"v":-0.088},{"t":2.96,"v":-0.096},{"t":3.05,"v":-0.1},{"t":3.13,"v":-0.111},{"t":3.2,"v":-0.094},{"t":3.31,"v":-0.1},{"t":3.43,"v":-0.088},{"t":3.47,"v":-0.1},{"t":3.5,"v":-0.08},{"t":3.56,"v":-0.071},{"t":3.6,"v":-0.094},{"t":3.65,"v":-0.07},{"t":3.7,"v":-0.067},{"t":3.75,"v":-0.094},{"t":3.79,"v":-0.075},{"t":3.84,"v":-0.064},{"t":3.93,"v":-0.054},{"t":4.02,"v":-0.046},{"t":4.16,"v":-0.042},{"t":4.3,"v":-0.033},{"t":4.41,"v":-0.025},{"t":4.53,"v":-0.017},{"t":4.62,"v":-0.019},{"t":4.76,"v":-0.025},{"t":4.88,"v":-0.038},{"t":4.94,"v":-0.067},{"t":4.98,"v":-0.05},{"t":5.13,"v":-0.042},{"t":5.27,"v":-0.033},{"t":5.4,"v":-0.013},{"t":5.47,"v":0.004},{"t":5.59,"v":0.017},{"t":5.66,"v":0.013},{"t":5.73,"v":0.013},{"t":5.8,"v":0.018},{"t":5.87,"v":0.021},{"t":5.96,"v":-0.006},{"t":6.03,"v":-0.002},{"t":6.1,"v":0.0},{"t":6.23,"v":-0.011},{"t":6.37,"v":-0.014},{"t":6.51,"v":-0.006},{"t":6.6,"v":-0.013},{"t":6.69,"v":-0.004},{"t":6.78,"v":-0.014},{"t":6.88,"v":-0.004},{"t":6.95,"v":-0.011},{"t":7.02,"v":0.004},{"t":7.06,"v":0.012},{"t":7.15,"v":-0.004},{"t":7.29,"v":0.0},{"t":7.38,"v":-0.008},{"t":7.48,"v":0.004},{"t":7.57,"v":0.006},{"t":7.61,"v":0.058},{"t":7.66,"v":0.045},{"t":7.7,"v":0.058},{"t":7.75,"v":0.067},{"t":7.82,"v":0.06},{"t":7.89,"v":0.071},{"t":7.96,"v":0.066},{"t":8.03,"v":0.0625},{"t":8.1,"v":0.075},{"t":8.17,"v":0.0875},{"t":8.24,"v":0.08},{"t":8.3,"v":0.075},{"t":8.4,"v":0.063},{"t":8.49,"v":0.067},{"t":8.53,"v":0.05},{"t":8.56,"v":0.07},{"t":8.59,"v":0.035},{"t":8.62,"v":0.068},{"t":8.65,"v":0.045},{"t":8.68,"v":0.066},{"t":8.71,"v":0.05},{"t":8.75,"v":0.062},{"t":8.8,"v":0.055},{"t":8.85,"v":0.06},{"t":8.95,"v":0.071},{"t":9.04,"v":0.079},{"t":9.18,"v":0.083},{"t":9.25,"v":0.114},{"t":9.28,"v":0.092},{"t":9.35,"v":0.09},{"t":9.42,"v":0.098},{"t":9.47,"v":0.088},{"t":9.52,"v":0.095},{"t":9.6,"v":0.093},{"t":9.66,"v":0.098},{"t":9.73,"v":0.096},{"t":9.8,"v":0.092},{"t":9.86,"v":0.1},{"t":9.96,"v":0.092},{"t":10.1,"v":0.079},{"t":10.17,"v":0.072},{"t":10.23,"v":0.067},{"t":10.3,"v":0.07},{"t":10.37,"v":0.062},{"t":10.42,"v":0.066},{"t":10.5,"v":0.054},{"t":10.55,"v":0.058},{"t":10.64,"v":0.046},{"t":10.74,"v":0.042},{"t":10.83,"v":0.025},{"t":10.88,"v":0.03},{"t":10.92,"v":0.025},{"t":10.93,"v":-0.025},{"t":10.95,"v":0.025},{"t":11.0,"v":0.02},{"t":11.1,"v":0.025},{"t":11.24,"v":0.033},{"t":11.33,"v":0.058},{"t":11.38,"v":0.055},{"t":11.43,"v":0.05},{"t":11.52,"v":0.046},{"t":11.61,"v":0.033},{"t":11.7,"v":0.021},{"t":11.77,"v":0.022},{"t":11.84,"v":0.013},{"t":11.93,"v":-0.004},{"t":11.98,"v":-0.021},{"t":12.02,"v":-0.01},{"t":12.07,"v":-0.017},{"t":12.12,"v":-0.008},{"t":12.16,"v":-0.025},{"t":12.25,"v":-0.013},{"t":12.32,"v":-0.008},{"t":12.39,"v":-0.008},{"t":12.46,"v":0.004},{"t":12.53,"v":0.0},{"t":12.6,"v":0.008},{"t":12.66,"v":0.004},{"t":12.75,"v":0.01},{"t":12.85,"v":0.004},{"t":12.92,"v":0.012},{"t":12.99,"v":0.008},{"t":13.08,"v":0.012},{"t":13.17,"v":0.006},{"t":13.26,"v":0.01},{"t":13.35,"v":0.0125},{"t":13.42,"v":0.0},{"t":13.49,"v":-0.008},{"t":13.58,"v":-0.013},{"t":13.65,"v":0.0},{"t":13.72,"v":0.004},{"t":13.79,"v":-0.006},{"t":13.86,"v":-0.003},{"t":13.93,"v":0.0},{"t":14,"v":-0.008}
    ]
  },
  "vconcat": [
    {
      "width": 507, "height": 228,
      "data": {"name": "force"},
      "mark": {"type": "line", "strokeWidth": 4, "strokeJoin": "round", "strokeCap": "round"},
      "encoding": {
        "x": {"field": "t", "type": "quantitative", "scale": {"domain": [0, 14], "nice": false}, "axis": {"values": [0,2,4,6,8,10,12,14], "title": null}},
        "y": {"field": "f", "type": "quantitative", "scale": {"domain": [0, 1600], "nice": false}, "axis": {"values": [0,500,1000,1500], "format": "d", "title": "Sensed Force [N]"}},
        "color": {"field": "leg", "type": "nominal", "scale": {"domain": ["Left", "Right"], "range": ["#009900", "#e60000"]}, "legend": null},
        "order": {"field": "t", "type": "quantitative"}
      }
    },
    {
      "width": 507, "height": 119,
      "layer": [
        {
          "data": {"name": "phases"},
          "mark": {"type": "rect", "stroke": "#222222", "strokeWidth": 1},
          "encoding": {
            "x": {"field": "start", "type": "quantitative", "scale": {"domain": [0, 14], "nice": false}, "axis": null},
            "x2": {"field": "end"},
            "y": {"datum": 0, "type": "quantitative", "scale": {"domain": [0, 1], "reverse": true}, "axis": null},
            "y2": {"datum": 0.295},
            "color": {"field": "phase", "type": "nominal", "scale": {"domain": ["Left support", "Left event", "Right support", "Right event"], "range": ["#009000", "#80e680", "#e60000", "#e58080"]}, "legend": null}
          }
        },
        {
          "data": {"name": "events"},
          "mark": {"type": "text", "angle": 45, "align": "left", "baseline": "middle", "fontSize": 13, "font": "Liberation Sans", "color": "#000"},
          "encoding": {
            "x": {"field": "t", "type": "quantitative"},
            "y": {"datum": 0.455, "type": "quantitative"},
            "text": {"field": "event"}
          }
        }
      ]
    },
    {
      "width": 507, "height": 95,
      "data": {"name": "odo"},
      "mark": {"type": "circle", "size": 4, "opacity": 0.8},
      "encoding": {
        "x": {"field": "t", "type": "quantitative", "scale": {"domain": [0, 14], "nice": false}, "axis": {"values": [0,2,4,6,8,10,12,14], "title": null}},
        "y": {"field": "v", "type": "quantitative", "scale": {"domain": [-0.12, 0.12], "nice": false}, "axis": {"values": [-0.1, 0, 0.1], "format": "~g", "title": "Leg Odometry"}},
        "color": {"field": "k", "type": "nominal", "scale": {"domain": ["n", "e"], "range": ["#959595", "#e60000"]}, "legend": null}
      }
    },
    {
      "width": 507, "height": 95,
      "data": {"name": "filtered"},
      "mark": {"type": "line", "strokeWidth": 1.2, "color": "#000"},
      "encoding": {
        "x": {"field": "t", "type": "quantitative", "scale": {"domain": [0, 14], "nice": false}, "axis": {"values": [0,2,4,6,8,10,12,14], "title": null}},
        "y": {"field": "v", "type": "quantitative", "scale": {"domain": [-0.12, 0.12], "nice": false}, "axis": {"values": [-0.1, 0, 0.1], "format": "~g", "title": "Filtered [m/sec]"}}
      }
    },
    {
      "width": 507, "height": 93,
      "data": {"name": "vicon"},
      "mark": {"type": "line", "strokeWidth": 1.2, "color": "#000"},
      "encoding": {
        "x": {"field": "t", "type": "quantitative", "scale": {"domain": [0, 14], "nice": false}, "axis": {"values": [0,2,4,6,8,10,12,14], "title": "Time [sec]", "titlePadding": 4}},
        "y": {"field": "v", "type": "quantitative", "scale": {"domain": [-0.12, 0.12], "nice": false}, "axis": {"values": [-0.1, 0, 0.1], "format": "~g", "title": "Vicon [m/sec]"}}
      }
    }
  ]
}
